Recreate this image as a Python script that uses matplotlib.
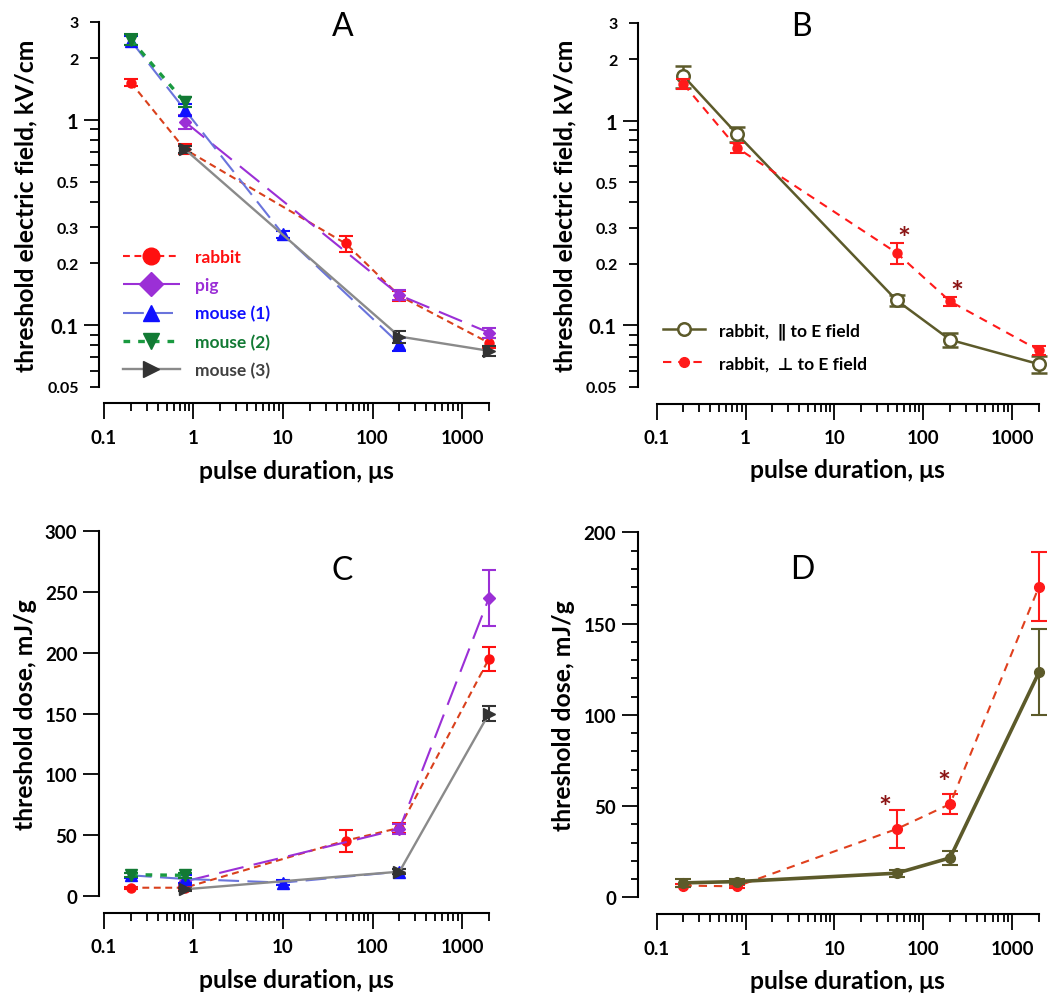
import matplotlib
matplotlib.use("Agg")
import matplotlib.pyplot as plt
from matplotlib.lines import Line2D
from matplotlib.ticker import (LogLocator, FuncFormatter, NullFormatter,
                               MultipleLocator, NullLocator)

plt.rcParams['font.family'] = ['Lato', 'DejaVu Sans']

# ---------------------------------------------------------------------------
# Data
# ---------------------------------------------------------------------------
# pulse durations, us
X_RABBIT = [0.2, 0.8, 50, 200, 2000]
X_PIG = [0.8, 200, 2000]
X_MOUSE1 = [0.2, 0.8, 10, 200]
X_MOUSE2 = [0.2, 0.8]
X_MOUSE3 = [0.8, 200, 2000]
X_B = [0.2, 0.8, 50, 200, 2000]

# panel A: threshold electric field, kV/cm
A_RABBIT = [1.52, 0.72, 0.25, 0.139, 0.082]
A_RABBIT_ERR = [0.06, 0.04, 0.022, 0.008, 0.005]
A_PIG = [0.98, 0.14, 0.092]
A_PIG_ERR = [0.08, 0.008, 0.005]
A_MOUSE1 = [2.43, 1.12, 0.277, 0.081]
A_MOUSE1_ERR = [0.12, 0.07, 0.01, 0.006]
A_MOUSE2 = [2.46, 1.22]
A_MOUSE2_ERR = [0.15, 0.07]
A_MOUSE3 = [0.72, 0.088, 0.075]
A_MOUSE3_ERR = [0.03, 0.006, 0.004]

# panel B: rabbit, parallel / perpendicular to E field, kV/cm
B_PAR = [1.65, 0.86, 0.1325, 0.085, 0.0646]
B_PAR_ERR = [0.2, 0.075, 0.008, 0.007, 0.006]
B_PERP = [1.51, 0.737, 0.226, 0.131, 0.0755]
B_PERP_ERR = [0.08, 0.04, 0.027, 0.007, 0.004]
B_STAR_X = [60, 236]
B_STAR_Y = [0.286, 0.156]

# panel C: threshold dose, mJ/g
C_RABBIT = [6.8, 6.8, 45.5, 56, 195]
C_RABBIT_ERR = [1, 1, 9, 4, 10]
C_PIG = [12, 55, 245]
C_PIG_ERR = [3, 4, 23]
C_MOUSE1 = [17, 14, 11, 20]
C_MOUSE1_ERR = [2, 3, 2, 2]
C_MOUSE2 = [17.5, 17]
C_MOUSE2_ERR = [1.5, 2]
C_MOUSE3 = [5.5, 20, 150]
C_MOUSE3_ERR = [1, 2, 6]

# panel D: rabbit dose, mJ/g
D_PAR = [7.9, 8.6, 13.2, 21.6, 123.3]
D_PAR_ERR = [2, 1.5, 2, 4, 23.5]
D_PERP = [6.4, 6.0, 37.4, 51.1, 170.2]
D_PERP_ERR = [1, 1, 10.3, 5.5, 19]
D_STAR_X = [36.6, 170]
D_STAR_Y = [53, 66.7]

# ---------------------------------------------------------------------------
# Styles
# ---------------------------------------------------------------------------
SPECIES = {
    "rabbit":    dict(line="#d9401c", mark="#ff1010", ls=(0, (3.3, 2.2)), lw=1.5, marker="o", ms=6.5, text="#ff1010"),
    "pig":       dict(line="#9b2fd6", mark="#9b2fd6", ls=(0, (12, 5)), lw=1.5, marker="D", ms=6.5, text="#9b2fd6"),
    "mouse (1)": dict(line="#6a74dc", mark="#1010ff", ls=(0, (10, 4)), lw=1.5, marker="^", ms=8, text="#1010ff"),
    "mouse (2)": dict(line="#1a9a40", mark="#127a34", ls=(0, (2, 2.4)), lw=2.4, marker="v", ms=9, text="#127a34"),
    "mouse (3)": dict(line="#8a8a8a", mark="#333333", ls="-", lw=1.7, marker=">", ms=9, text="#404040"),
}
OLIVE = "#5c5a2a"
RED = "#ff1a1a"
RED_LINE = "#e0401e"
STAR = "#8b1414"

TICK_FONT = 13.5
LABEL_FONT = 17.8


def fmt_num(v, pos=None):
    return f"{v:g}"


def style_x(ax):
    ax.set_xscale("log")
    ax.set_xlim(0.1, 2000)
    ax.xaxis.set_major_locator(LogLocator(base=10))
    ax.xaxis.set_minor_locator(LogLocator(base=10, subs=range(2, 10)))
    ax.xaxis.set_major_formatter(FuncFormatter(fmt_num))
    ax.xaxis.set_minor_formatter(NullFormatter())
    ax.tick_params(axis="x", which="major", length=11.5, width=1.3, pad=7,
                   labelsize=TICK_FONT)
    ax.tick_params(axis="x", which="minor", length=5.5, width=1.3)
    for lab in ax.get_xticklabels():
        lab.set_fontweight("bold")
    ax.set_xlabel("pulse duration, \u03bcs", fontsize=LABEL_FONT,
                  fontweight="bold", va="center")
    ax.xaxis.set_label_coords(0.5, -0.228)


def style_spines(ax, left_out, bottom_out):
    for s in ("top", "right"):
        ax.spines[s].set_visible(False)
    ax.spines["left"].set_position(("outward", left_out))
    ax.spines["bottom"].set_position(("outward", bottom_out))
    ax.spines["left"].set_linewidth(1.5)
    ax.spines["bottom"].set_linewidth(1.5)


def style_log_y(ax):
    ax.set_yscale("log")
    ax.set_ylim(0.05, 3)
    ax.yaxis.set_major_locator(LogLocator(base=10))
    ax.yaxis.set_minor_locator(LogLocator(base=10, subs=range(2, 10)))
    ax.yaxis.set_major_formatter(FuncFormatter(fmt_num))

    def minor_fmt(v, pos=None):
        lead = round(v / 10 ** int(f"{v:e}".split("e")[1]))
        return f"{v:g}" if lead in (2, 3, 5) else ""
    ax.yaxis.set_minor_formatter(FuncFormatter(minor_fmt))
    ax.tick_params(axis="y", which="major", length=11, width=1.3, pad=4,
                   labelsize=14.5)
    ax.tick_params(axis="y", which="minor", length=6.5, width=1.3, pad=8,
                   labelsize=11.5)
    for lab in ax.get_yticklabels(which="both"):
        lab.set_fontweight("bold")
    ax.set_ylabel("threshold electric field, kV/cm", fontsize=LABEL_FONT,
                  fontweight="bold", va="center")


def draw(ax, x, y, err, st, z):
    ax.errorbar(x, y, yerr=err, color=st["line"], ls=st["ls"], lw=st["lw"],
                marker=st["marker"], ms=st["ms"], mfc=st["mark"],
                mec=st["mark"], ecolor=st["mark"], elinewidth=1.5,
                capsize=5, capthick=1.5, zorder=z, clip_on=False)


def stars(ax, xs, ys):
    for sx, sy in zip(xs, ys):
        ax.annotate("*", (sx, sy), xytext=(0, -5), textcoords="offset points",
                    color=STAR, fontsize=22, fontweight="bold",
                    ha="center", va="center")


fig = plt.figure(figsize=(10.63, 9.95), dpi=100)
axA = fig.add_axes([0.0978, 0.6101, 0.3622, 0.3668])
axB = fig.add_axes([0.6178, 0.6101, 0.3596, 0.3658])
axC = fig.add_axes([0.0978, 0.0985, 0.3622, 0.3668])
axD = fig.add_axes([0.6178, 0.0972, 0.3596, 0.3668])

# ---------------------------------------------------------------- panel A
series_A = [
    ("rabbit", X_RABBIT, A_RABBIT, A_RABBIT_ERR),
    ("pig", X_PIG, A_PIG, A_PIG_ERR),
    ("mouse (1)", X_MOUSE1, A_MOUSE1, A_MOUSE1_ERR),
    ("mouse (2)", X_MOUSE2, A_MOUSE2, A_MOUSE2_ERR),
    ("mouse (3)", X_MOUSE3, A_MOUSE3, A_MOUSE3_ERR),
]
for i, (name, x, y, e) in enumerate(series_A):
    draw(axA, x, y, e, SPECIES[name], 3 + i)
style_spines(axA, 3.6, 11.5)
style_log_y(axA)
style_x(axA)
axA.yaxis.set_label_coords(-0.203, 0.5)

handles = []
for name, *_ in series_A:
    st = SPECIES[name]
    handles.append(Line2D([], [], color=st["line"] if name != "rabbit" else RED,
                          ls=st["ls"], lw=st["lw"], marker=st["marker"],
                          ms=12, mfc=st["mark"], mec=st["mark"]))
axA.legend(handles, [s[0] for s in series_A], loc="upper left",
           bbox_to_anchor=(0.049, 0.378), frameon=False, borderpad=0,
           borderaxespad=0, handlelength=3.3, handletextpad=0.85,
           labelspacing=0.7, prop=dict(weight="bold", size=12.5),
           labelcolor=[SPECIES[s[0]]["text"] for s in series_A])
axA.text(0.621, 0.989, "A", transform=axA.transAxes, fontsize=23,
         ha="center", va="center")

# ---------------------------------------------------------------- panel B
axB.errorbar(X_B, B_PAR, yerr=B_PAR_ERR, color=OLIVE, lw=1.8, marker="o",
             ms=9, mfc="white", mec=OLIVE, mew=1.8, elinewidth=1.8,
             capsize=6, capthick=1.8, zorder=3, clip_on=False)
axB.errorbar(X_B, B_PERP, yerr=B_PERP_ERR, color=RED, ls=(0, (4, 3.3)),
             lw=1.5, marker="o", ms=6.5, mfc=RED, mec=RED, elinewidth=1.5,
             capsize=5, capthick=1.5, zorder=4, clip_on=False)
stars(axB, B_STAR_X, B_STAR_Y)
style_spines(axB, 13.7, 12)
style_log_y(axB)
style_x(axB)
axB.yaxis.set_label_coords(-0.24, 0.5)
hB = [Line2D([], [], color=OLIVE, lw=1.8, marker="o", ms=9, mfc="white",
             mec=OLIVE, mew=1.8),
      Line2D([], [], color=RED, ls=(0, (4, 3.3)), lw=1.5, marker="o",
             ms=7, mfc=RED, mec=RED)]
axB.legend(hB, ["rabbit,  \u2225 to E field", "rabbit,  \u22a5 to E field"],
           loc="upper left", bbox_to_anchor=(0.0165, 0.178), frameon=False,
           borderpad=0, borderaxespad=0, handlelength=2.4,
           handletextpad=0.8, labelspacing=0.95,
           prop=dict(weight="bold", size=12.5))
axB.text(0.3775, 0.992, "B", transform=axB.transAxes, fontsize=23,
         ha="center", va="center")

# ---------------------------------------------------------------- panel C
series_C = [
    ("rabbit", X_RABBIT, C_RABBIT, C_RABBIT_ERR),
    ("pig", X_PIG, C_PIG, C_PIG_ERR),
    ("mouse (1)", X_MOUSE1, C_MOUSE1, C_MOUSE1_ERR),
    ("mouse (2)", X_MOUSE2, C_MOUSE2, C_MOUSE2_ERR),
    ("mouse (3)", X_MOUSE3, C_MOUSE3, C_MOUSE3_ERR),
]
for i, (name, x, y, e) in enumerate(series_C):
    draw(axC, x, y, e, SPECIES[name], 3 + i)
style_spines(axC, 3.6, 12)
style_x(axC)
axC.set_ylim(0, 300)
axC.yaxis.set_major_locator(MultipleLocator(50))
axC.yaxis.set_minor_locator(NullLocator())
axC.tick_params(axis="y", which="major", length=11.5, width=1.3, pad=4,
                labelsize=TICK_FONT)
for lab in axC.get_yticklabels():
    lab.set_fontweight("bold")
axC.set_ylabel("threshold dose, mJ/g", fontsize=LABEL_FONT, fontweight="bold",
               va="center")
axC.yaxis.set_label_coords(-0.205, 0.5)
axC.text(0.618, 0.893, "C", transform=axC.transAxes, fontsize=23,
         ha="center", va="center")

# ---------------------------------------------------------------- panel D
axD.errorbar(X_B, D_PERP, yerr=D_PERP_ERR, color=RED_LINE, ls=(0, (4, 3.3)),
             lw=1.5, marker="o", ms=7, mfc=RED, mec=RED, ecolor=RED,
             elinewidth=1.5, capsize=6, capthick=1.5, zorder=3, clip_on=False)
axD.errorbar(X_B, D_PAR, yerr=D_PAR_ERR, color=OLIVE, lw=2.6, marker="o",
             ms=7, mfc=OLIVE, mec=OLIVE, elinewidth=1.5, capsize=6,
             capthick=1.5, zorder=4, clip_on=False)
stars(axD, D_STAR_X, D_STAR_Y)
style_spines(axD, 13.7, 12)
style_x(axD)
axD.set_ylim(0, 200)
axD.yaxis.set_major_locator(MultipleLocator(50))
axD.yaxis.set_minor_locator(MultipleLocator(10))
axD.tick_params(axis="y", which="major", length=11.5, width=1.3, pad=4,
                labelsize=TICK_FONT)
axD.tick_params(axis="y", which="minor", length=5, width=1.3)
for lab in axD.get_yticklabels():
    lab.set_fontweight("bold")
axD.set_ylabel("threshold dose, mJ/g", fontsize=LABEL_FONT, fontweight="bold",
               va="center")
axD.yaxis.set_label_coords(-0.245, 0.5)
axD.text(0.380, 0.899, "D", transform=axD.transAxes, fontsize=23,
         ha="center", va="center")

fig.savefig("out.png", dpi=100)
